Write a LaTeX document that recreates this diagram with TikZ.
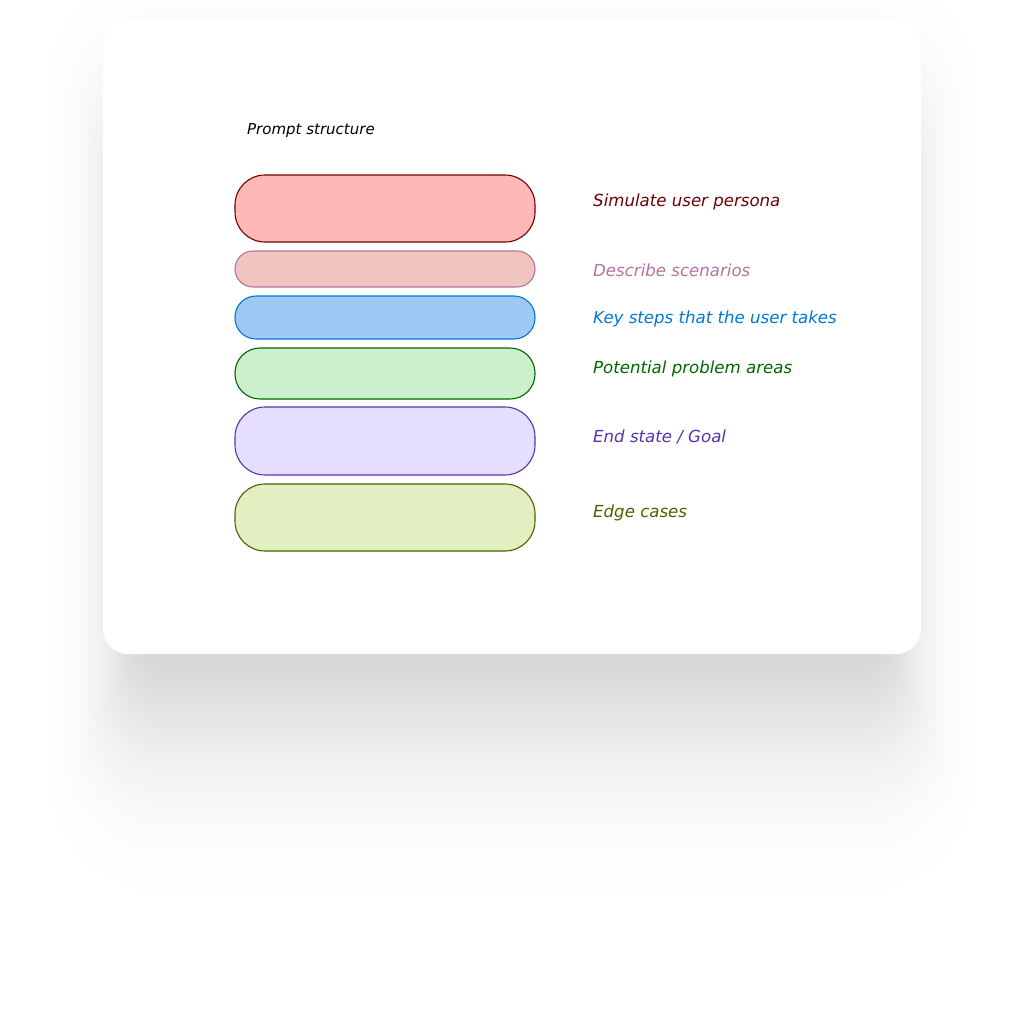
\documentclass[tikz,border=0pt]{standalone}
\usepackage{fontspec}
\setmainfont{DejaVu Sans}
\definecolor{cRedF}{HTML}{FFB8B8}\definecolor{cRedD}{HTML}{6F0000}
\definecolor{cPinkF}{HTML}{F0C4C0}\definecolor{cPinkD}{HTML}{B5739D}
\definecolor{cBlueF}{HTML}{9FC9F5}\definecolor{cBlueD}{HTML}{0078D4}
\definecolor{cGreenF}{HTML}{CCEFCC}\definecolor{cGreenD}{HTML}{006600}
\definecolor{cPurpF}{HTML}{E6DEFF}\definecolor{cPurpD}{HTML}{5533AA}
\definecolor{cOlivF}{HTML}{E2EFC0}\definecolor{cOlivD}{HTML}{4D5F00}
\tikzset{
  layerbox/.style={draw, line width=1.1pt, minimum width=300pt, inner sep=0pt, outer sep=0pt},
  lbl/.style={anchor=west, inner sep=0pt, font=\fontsize{16.6}{19}\selectfont\itshape},
  ttl/.style={anchor=west, inner sep=0pt, font=\fontsize{15}{17}\selectfont\itshape, text=black},
}
\begin{document}
\begin{tikzpicture}[x=1pt,y=-1pt]
\useasboundingbox (0,0) rectangle (1024,1018);
\fill[white] (0,0) rectangle (1024,1018);
% shadow (layered approximation of a blurred, offset shadow)
\foreach \z in {-2.13,-1.645,-1.383,-1.192,-1.036,-0.903,-0.783,-0.674,-0.573,-0.477,-0.385,-0.297,-0.210,-0.126,-0.042,
                 0.042,0.126,0.210,0.297,0.385,0.477,0.573,0.674,0.783,0.903,1.036,1.192,1.383,1.645,2.13}{
  \pgfmathsetmacro{\ex}{35*\z}
  \pgfmathsetmacro{\ey}{90*\z}
  \pgfmathsetmacro{\rr}{max(40+35*\z,2)}
  \fill[black, opacity=0.0083, rounded corners=\rr pt] (125-\ex,160-\ey) rectangle (899+\ex,700+\ey);
}
% card
\fill[white, rounded corners=25pt] (103,20) rectangle (921,654);
\node[ttl] (title) at (247,131) {Prompt structure};
\node[layerbox, fill=cRedF, draw=cRedD, minimum height=67pt, rounded corners=30pt] (b1) at (385,208.5) {};
\node[layerbox, fill=cPinkF, draw=cPinkD, minimum height=36pt, rounded corners=18pt] (b2) at (385,269) {};
\node[layerbox, fill=cBlueF, draw=cBlueD, minimum height=43pt, rounded corners=21pt] (b3) at (385,317.5) {};
\node[layerbox, fill=cGreenF, draw=cGreenD, minimum height=51pt, rounded corners=25pt] (b4) at (385,373.5) {};
\node[layerbox, fill=cPurpF, draw=cPurpD, minimum height=68pt, rounded corners=30pt] (b5) at (385,441) {};
\node[layerbox, fill=cOlivF, draw=cOlivD, minimum height=67pt, rounded corners=30pt] (b6) at (385,517.5) {};
\node[lbl, text=cRedD] (l1) at (593,202) {Simulate user persona};
\node[lbl, text=cPinkD] (l2) at (593,270) {Describe scenarios};
\node[lbl, text=cBlueD] (l3) at (593,319) {Key steps that the user takes};
\node[lbl, text=cGreenD] (l4) at (593,369) {Potential problem areas};
\node[lbl, text=cPurpD] (l5) at (593,437) {End state / Goal};
\node[lbl, text=cOlivD] (l6) at (593,513) {Edge cases};
\end{tikzpicture}
\end{document}
